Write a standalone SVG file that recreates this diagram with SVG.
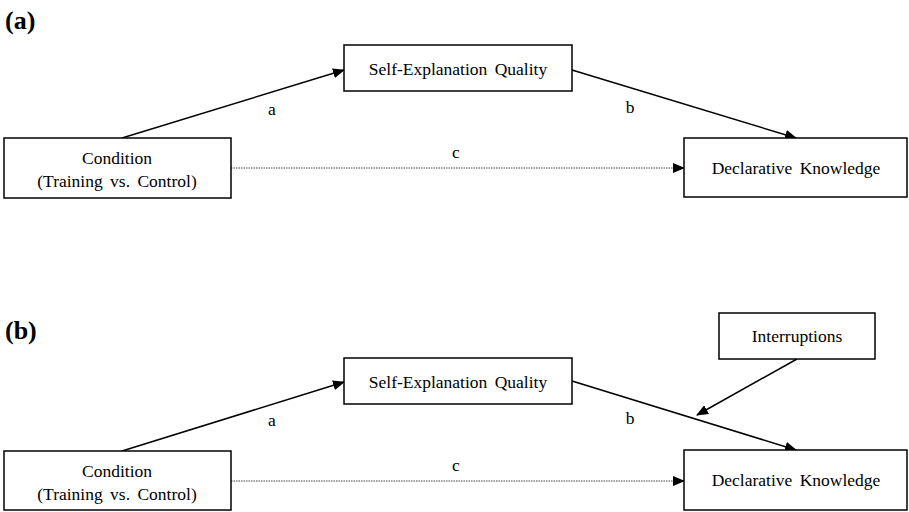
<svg xmlns="http://www.w3.org/2000/svg" width="909" height="512" viewBox="0 0 909 512">
<style>
.box{fill:#fff;stroke:#000;stroke-width:1.5}
.t{font-family:"Liberation Serif","Times New Roman",serif;font-size:17.5px;fill:#000;text-anchor:middle;word-spacing:3px}
.lab{font-family:"Liberation Serif","Times New Roman",serif;font-size:26px;font-weight:bold;fill:#000}
.ln{stroke:#000;stroke-width:1.5;fill:none;marker-end:url(#ah)}
.dl{stroke:#444;stroke-width:1;stroke-dasharray:1.5,1;fill:none;marker-end:url(#ah)}
</style>
<defs>
<marker id="ah" markerWidth="12" markerHeight="10" refX="11" refY="5" orient="auto" markerUnits="userSpaceOnUse">
<path d="M0,0 L12,5 L0,10 Z" fill="#000"/>
</marker>
</defs>
<rect width="909" height="512" fill="#fff"/>
<text class="lab" x="5" y="29">(a)</text>
<text class="lab" x="5" y="339">(b)</text>
<g id="connectors">
<line class="ln" x1="122" y1="138" x2="344" y2="70"/>
<line class="ln" x1="572" y1="70" x2="796" y2="138"/>
<line class="dl" x1="231" y1="168" x2="684" y2="168"/>
<line class="ln" x1="122" y1="451" x2="344" y2="382"/>
<line class="ln" x1="572" y1="381" x2="796" y2="450"/>
<line class="dl" x1="231" y1="481" x2="684" y2="481"/>
<line class="ln" x1="797" y1="359" x2="697" y2="415"/>
<text class="t" x="272" y="115">a</text>
<text class="t" x="630" y="113">b</text>
<text class="t" x="456" y="158">c</text>
<text class="t" x="272" y="426">a</text>
<text class="t" x="630" y="424">b</text>
<text class="t" x="456" y="471">c</text>
</g>
<g id="condition-a">
<rect class="box" x="4" y="138" width="227" height="60"/>
<text class="t" x="117" y="164">Condition</text>
<text class="t" x="117" y="187">(Training vs. Control)</text>
</g>
<g id="seq-a">
<rect class="box" x="344" y="45" width="228" height="46"/>
<text class="t" x="458" y="75">Self-Explanation Quality</text>
</g>
<g id="dk-a">
<rect class="box" x="684" y="138" width="223" height="59"/>
<text class="t" x="796" y="174">Declarative Knowledge</text>
</g>
<g id="condition-b">
<rect class="box" x="4" y="451" width="227" height="59"/>
<text class="t" x="117" y="477">Condition</text>
<text class="t" x="117" y="500">(Training vs. Control)</text>
</g>
<g id="seq-b">
<rect class="box" x="344" y="358" width="228" height="46"/>
<text class="t" x="458" y="388">Self-Explanation Quality</text>
</g>
<g id="interruptions">
<rect class="box" x="719" y="313" width="156" height="46"/>
<text class="t" x="797" y="342">Interruptions</text>
</g>
<g id="dk-b">
<rect class="box" x="684" y="450" width="223" height="60"/>
<text class="t" x="796" y="486">Declarative Knowledge</text>
</g>
</svg>
